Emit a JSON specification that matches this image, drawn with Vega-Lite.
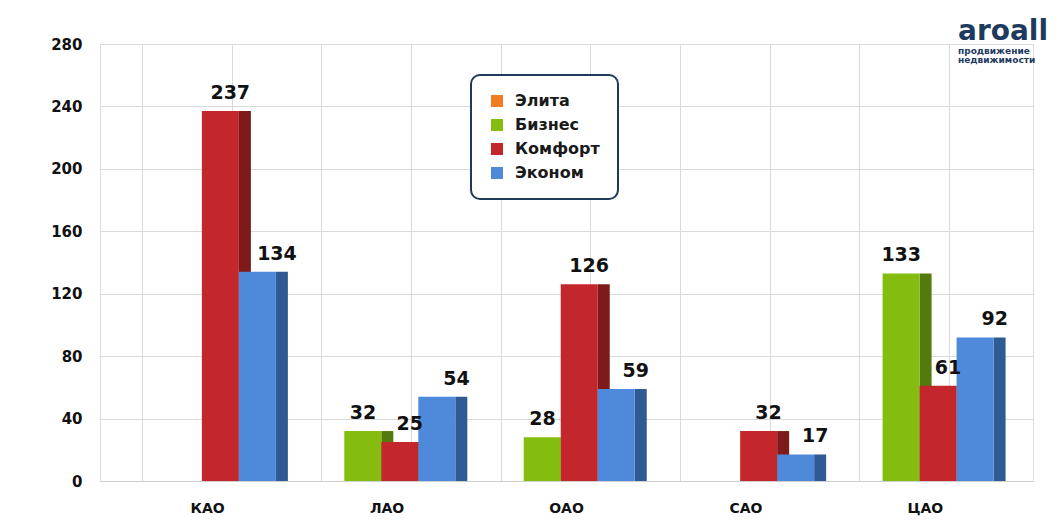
{
  "$schema": "https://vega.github.io/schema/vega-lite/v6.json",
  "width": 933,
  "height": 437,
  "autosize": {"type": "none"},
  "padding": {"left": 100, "top": 44, "right": 31, "bottom": 50},
  "background": "white",
  "title": {
    "text": "aroall",
    "subtitle": ["продвижение", "недвижимости"],
    "anchor": "end",
    "align": "left",
    "dx": -75,
    "offset": -28,
    "font": "DejaVu Sans",
    "fontSize": 28,
    "fontWeight": "bold",
    "color": "#1d3b5e",
    "subtitleFont": "DejaVu Sans",
    "subtitleFontSize": 9,
    "subtitleFontWeight": "bold",
    "subtitleColor": "#1d3b5e",
    "subtitlePadding": 1,
    "subtitleLineHeight": 9
  },
  "data": {
    "values": [
      {"district": "КАО", "series": "Комфорт", "value": 237},
      {"district": "КАО", "series": "Эконом", "value": 134},
      {"district": "ЛАО", "series": "Бизнес", "value": 32},
      {"district": "ЛАО", "series": "Комфорт", "value": 25},
      {"district": "ЛАО", "series": "Эконом", "value": 54},
      {"district": "ОАО", "series": "Бизнес", "value": 28},
      {"district": "ОАО", "series": "Комфорт", "value": 126},
      {"district": "ОАО", "series": "Эконом", "value": 59},
      {"district": "САО", "series": "Комфорт", "value": 32},
      {"district": "САО", "series": "Эконом", "value": 17},
      {"district": "ЦАО", "series": "Бизнес", "value": 133},
      {"district": "ЦАО", "series": "Комфорт", "value": 61},
      {"district": "ЦАО", "series": "Эконом", "value": 92}
    ]
  },
  "encoding": {
    "y": {
      "field": "value",
      "type": "quantitative",
      "scale": {"domain": [0, 280], "nice": false},
      "axis": {
        "title": null,
        "values": [0, 40, 80, 120, 160, 200, 240, 280],
        "domain": false,
        "ticks": false,
        "labelPadding": 18,
        "labelFont": "DejaVu Sans",
        "labelFontSize": 15,
        "labelFontWeight": "bold",
        "labelColor": "#111111",
        "gridColor": "#dadada",
        "gridWidth": 1
      }
    }
  },
  "layer": [
    {
      "mark": {"type": "bar", "width": 12},
      "encoding": {
        "x": {
          "field": "district",
          "type": "nominal",
          "sort": ["КАО", "ЛАО", "ОАО", "САО", "ЦАО"],
          "scale": {"paddingInner": 0, "paddingOuter": 0.1},
          "axis": {"orient": "top", "title": null, "labels": false, "ticks": false, "domain": false, "grid": true, "bandPosition": 0.1355, "gridColor": "#dadada"}
        },
        "xOffset": {
          "field": "series",
          "type": "nominal",
          "scale": {"domain": ["Элита", "Бизнес", "Комфорт", "Эконом"], "range": [19.5, 197.4], "paddingInner": 0, "paddingOuter": 0.404}
        },
        "color": {
          "field": "series",
          "type": "nominal",
          "scale": {"domain": ["Элита", "Бизнес", "Комфорт", "Эконом"], "range": ["#a5531a", "#527a0c", "#7e1a1a", "#2f5a94"]},
          "legend": null
        }
      }
    },
    {
      "mark": {"type": "bar"},
      "encoding": {
        "x": {
          "field": "district",
          "type": "nominal",
          "sort": ["КАО", "ЛАО", "ОАО", "САО", "ЦАО"],
          "scale": {"paddingInner": 0, "paddingOuter": 0.1},
          "axis": {"orient": "top", "title": null, "labels": false, "ticks": false, "domain": false, "grid": true, "bandPosition": 0.636, "gridColor": "#dadada"}
        },
        "xOffset": {
          "field": "series",
          "type": "nominal",
          "scale": {"domain": ["Элита", "Бизнес", "Комфорт", "Эконом"], "range": [-5, 172.9], "paddingInner": 0, "paddingOuter": 0.404}
        },
        "color": {
          "field": "series",
          "type": "nominal",
          "scale": {"domain": ["Элита", "Бизнес", "Комфорт", "Эконом"], "range": ["#f07d22", "#84bd10", "#c3272b", "#4f89da"]},
          "legend": {
            "orient": "none",
            "legendX": 371,
            "legendY": 31,
            "title": null,
            "symbolType": "square",
            "symbolSize": 144,
            "symbolStrokeWidth": 0,
            "labelFont": "DejaVu Sans",
            "labelFontSize": 16,
            "labelFontWeight": "bold",
            "labelColor": "#1a1a1a",
            "labelOffset": 10,
            "padding": 18,
            "rowPadding": 8,
            "strokeColor": "#1e3a56",
            "fillColor": "white",
            "cornerRadius": 9,
            "encode": {"legend": {"update": {"strokeWidth": {"value": 2}}}}
          }
        }
      }
    },
    {
      "mark": {"type": "text", "font": "DejaVu Sans", "fontSize": 19, "fontWeight": "bold", "baseline": "alphabetic", "dy": -12, "color": "#111111"},
      "encoding": {
        "x": {
          "field": "district",
          "type": "nominal",
          "sort": ["КАО", "ЛАО", "ОАО", "САО", "ЦАО"],
          "scale": {"paddingInner": 0, "paddingOuter": 0.1},
          "axis": {"orient": "bottom", "title": null, "grid": false, "ticks": false, "domain": true, "domainColor": "#cfcfcf", "labelAngle": 0, "labelPadding": 20, "labelFont": "DejaVu Sans", "labelFontSize": 14, "labelFontWeight": "bold", "labelColor": "#111111"}
        },
        "xOffset": {
          "field": "series",
          "type": "nominal",
          "scale": {"domain": ["Элита", "Бизнес", "Комфорт", "Эконом"], "range": [0, 177.9], "paddingInner": 0, "paddingOuter": 0.404}
        },
        "text": {"field": "value", "type": "quantitative"}
      }
    }
  ],
  "resolve": {"scale": {"color": "independent", "xOffset": "independent"}, "axis": {"x": "independent"}}
}
